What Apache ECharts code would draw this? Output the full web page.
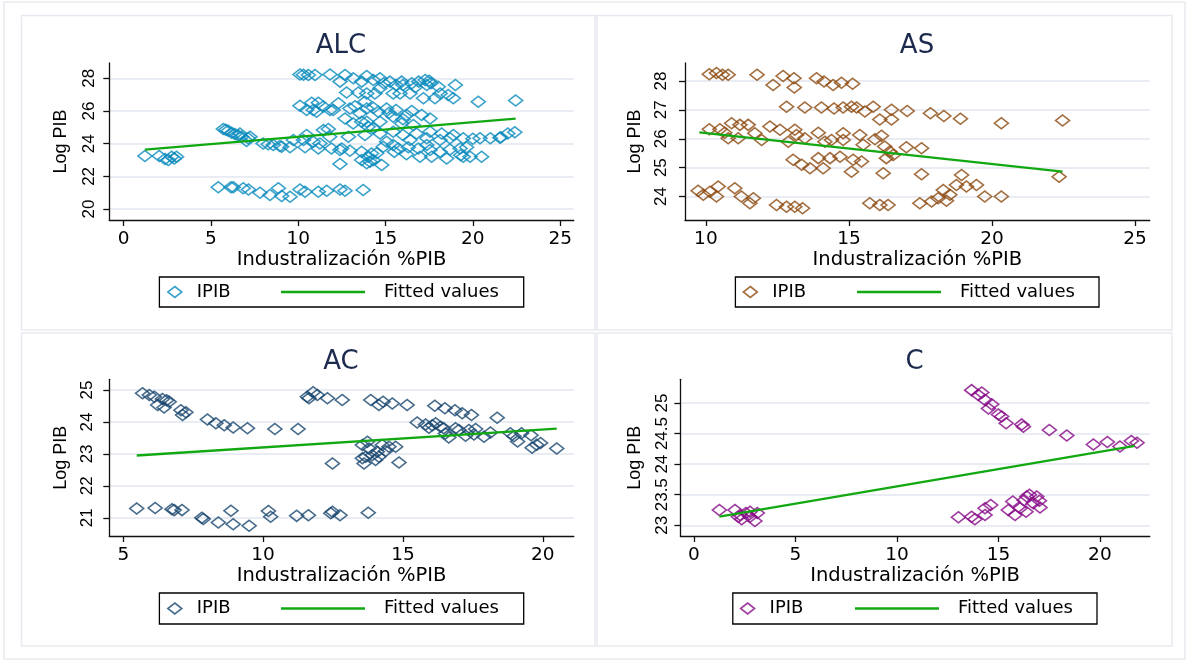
<!DOCTYPE html>
<html>
<head>
<meta charset="utf-8">
<title>Log PIB vs Industralización %PIB</title>
<script src="https://cdn.jsdelivr.net/npm/echarts@6/dist/echarts.min.js"></script>
<style>
  html, body { margin: 0; padding: 0; background: #fff; }
  #chart { width: 1189px; height: 661px; }
</style>
</head>
<body>
<div id="chart"></div>
<script>
const alcPoints = [
  [1.22, 23.24], [2.04, 23.24], [2.37, 23.06], [2.56, 23.0], [2.75, 23.2], [3.03, 23.2], [2.9, 23.1],
  [5.71, 24.9], [5.85, 24.85], [5.99, 24.8], [6.19, 24.67], [6.37, 24.6], [5.42, 21.33], [6.15, 21.33],
  [10.1, 28.24], [10.3, 28.22], [10.58, 28.2], [10.96, 28.2], [11.82, 28.24], [12.68, 28.2], [12.39, 27.8],
  [13.15, 28.0], [13.63, 27.8], [13.92, 28.14], [12.77, 27.14], [13.44, 27.14], [13.92, 27.08],
  [10.1, 26.33], [10.77, 26.5], [11.15, 26.5], [11.43, 26.27], [10.86, 26.06], [11.82, 26.06], [12.3, 26.47],
  [12.96, 26.16], [13.25, 26.3], [13.82, 26.57], [13.53, 25.86], [12.68, 25.55], [13.15, 25.24], [13.63, 25.35],
  [14.0, 25.04], [11.05, 25.96], [10.48, 26.06], [12.0, 26.06],
  [11.72, 24.9], [11.44, 24.84], [10.48, 24.53], [9.72, 24.22], [9.05, 23.82], [8.57, 23.92], [7.99, 24.02],
  [7.24, 24.43], [6.66, 24.63], [6.76, 24.43], [6.57, 24.5], [7.13, 24.33], [7.04, 24.16], [8.28, 23.96],
  [8.95, 23.86], [9.53, 23.78], [10.39, 23.78], [10.3, 24.22], [10.86, 24.12], [11.15, 23.71], [11.24, 24.02],
  [11.8, 24.43], [12.49, 23.71], [12.96, 23.57], [13.63, 23.51], [12.39, 22.76], [13.63, 23.0], [13.92, 22.8],
  [12.87, 24.43], [11.9, 23.71], [12.39, 23.61],
  [6.28, 21.33], [6.85, 21.27], [7.15, 21.2], [7.81, 21.0], [8.38, 20.86], [8.86, 21.27], [9.05, 20.8],
  [9.53, 20.76], [10.1, 21.2], [10.39, 21.06], [11.15, 21.06], [11.63, 21.12], [12.39, 21.2], [12.68, 21.12],
  [13.72, 21.16],
  [14.3, 27.9], [14.68, 28.0], [14.9, 27.7], [15.25, 27.8], [15.6, 27.6], [15.92, 27.8], [16.0, 27.6],
  [16.5, 27.7], [16.7, 27.45], [16.9, 27.8], [17.27, 27.9], [17.36, 27.6], [17.5, 27.85], [17.6, 27.7],
  [18.02, 27.49], [19.0, 27.6], [15.83, 27.08], [18.88, 26.78], [18.13, 27.08], [17.17, 26.78], [16.4, 27.08],
  [15.44, 27.08], [14.39, 27.08], [14.68, 27.39], [20.31, 26.57], [17.83, 26.78], [18.59, 26.98],
  [13.92, 26.16], [14.58, 25.96], [15.06, 26.16], [15.6, 26.06], [16.2, 25.76], [13.92, 25.35], [14.68, 25.35],
  [15.44, 25.65], [15.92, 25.24], [16.59, 25.14], [17.07, 25.76], [17.55, 25.55], [14.3, 24.94], [14.3, 26.2],
  [15.2, 25.9], [16.5, 26.0], [16.0, 25.5],
  [13.82, 24.53], [14.68, 24.63], [15.44, 24.73], [16.0, 24.53], [16.77, 24.63], [17.55, 24.73], [18.21, 24.63],
  [18.88, 24.53], [19.45, 24.33], [20.41, 24.33], [21.0, 24.33], [21.55, 24.37], [22.0, 24.63], [18.69, 24.33],
  [18.12, 24.22], [17.36, 24.33], [16.4, 24.22], [15.44, 23.92], [15.06, 24.12], [15.73, 23.71], [16.3, 23.78],
  [16.88, 23.71], [17.55, 23.61], [18.12, 23.51], [18.69, 23.65], [19.27, 23.71], [19.45, 23.2], [19.84, 23.2],
  [20.5, 23.2], [16.97, 23.2], [17.64, 23.2], [18.5, 23.1], [14.01, 23.2], [14.78, 22.69], [14.11, 22.9],
  [14.49, 23.41], [14.87, 23.82], [17.36, 23.92], [19.3, 23.3], [19.64, 23.78], [15.5, 23.5], [16.2, 23.35],
  [14.3, 23.0], [14.2, 23.4],
  [22.45, 26.65], [22.4, 24.7], [21.6, 24.4], [20.0, 24.3]
];
const asPoints = [
  [10.12, 28.23], [10.37, 28.27], [10.58, 28.21], [10.78, 28.21], [11.79, 28.21], [12.35, 27.86], [12.7, 28.17],
  [13.08, 28.09], [13.09, 27.77], [13.87, 28.09], [14.13, 27.98], [14.45, 27.86], [14.74, 27.94], [15.13, 27.9],
  [12.82, 27.11], [13.46, 27.08], [14.04, 27.08], [14.48, 27.05], [14.8, 27.08], [15.09, 27.11], [15.27, 27.08],
  [15.56, 26.94], [15.85, 27.11],
  [10.12, 26.33], [10.49, 26.33], [10.9, 26.54], [11.19, 26.48], [11.48, 26.48], [11.71, 26.19], [11.95, 25.96],
  [12.24, 26.42], [12.59, 26.31], [12.88, 25.9], [13.11, 26.31], [13.17, 26.13], [13.46, 26.02], [13.93, 26.21],
  [14.16, 25.9], [14.39, 25.96], [14.8, 25.96], [14.8, 26.19], [15.38, 26.13], [15.5, 25.79], [15.91, 25.98],
  [10.78, 26.02], [11.13, 26.02], [10.66, 26.21],
  [13.05, 25.27], [13.35, 25.1], [13.64, 24.98], [13.93, 25.33], [14.1, 24.98], [14.34, 25.33], [14.69, 25.38],
  [15.15, 25.27], [15.44, 25.21], [15.09, 24.86],
  [9.73, 24.2], [9.91, 24.06], [10.14, 24.17], [10.43, 24.35], [10.37, 24.0], [11.01, 24.29], [11.24, 24.0],
  [11.54, 23.77], [11.66, 23.94], [12.47, 23.71], [12.82, 23.65], [13.11, 23.65], [13.38, 23.6], [15.73, 23.77],
  [16.08, 26.67], [16.49, 27.0], [16.49, 26.67], [17.04, 26.96], [17.85, 26.88], [18.32, 26.79], [18.9, 26.69],
  [20.33, 26.54], [22.47, 26.63],
  [16.14, 26.1], [16.25, 25.73], [16.43, 25.56], [16.31, 25.33], [16.55, 25.44], [17.01, 25.71], [17.54, 25.67],
  [16.2, 24.81], [17.54, 24.77], [18.94, 24.75], [22.35, 24.69],
  [18.3, 24.23], [18.76, 24.4], [19.11, 24.35], [19.46, 24.4], [18.53, 24.06], [18.12, 23.94], [17.89, 23.83],
  [17.48, 23.77], [18.41, 23.86], [19.75, 24.0], [20.33, 24.0], [16.08, 23.71], [16.37, 23.71]
];
const acPoints = [
  [5.69, 24.9], [5.93, 24.84], [6.11, 24.79], [6.23, 24.53], [6.4, 24.72], [6.46, 24.45], [6.64, 24.63],
  [6.55, 24.68], [7.06, 24.37], [7.12, 24.22], [7.24, 24.3], [8.01, 24.08], [8.31, 23.96], [8.61, 23.9],
  [8.93, 23.83], [9.44, 23.8], [10.42, 23.78], [11.25, 23.78],
  [11.58, 24.79], [11.64, 24.74], [11.79, 24.93], [11.94, 24.84], [12.3, 24.74], [12.83, 24.69], [13.85, 24.69],
  [14.14, 24.53], [14.29, 24.63], [14.62, 24.58], [15.15, 24.53],
  [16.14, 24.51], [16.5, 24.43], [16.86, 24.37], [17.12, 24.27], [17.45, 24.22], [18.37, 24.13],
  [15.51, 23.98], [15.81, 23.92], [16.05, 23.9], [16.17, 23.96], [16.35, 23.85], [16.46, 23.8], [16.64, 23.51],
  [16.88, 23.8], [17.0, 23.75], [17.24, 23.57], [17.36, 23.75], [17.6, 23.78], [17.9, 23.54], [18.13, 23.67],
  [15.93, 23.82], [16.52, 23.64], [17.54, 23.61],
  [13.55, 23.28], [13.67, 22.91], [13.55, 22.86], [13.61, 22.7], [13.79, 23.17], [13.9, 22.96], [14.02, 22.81],
  [14.08, 23.07], [14.26, 23.28], [14.38, 23.09], [14.5, 23.22], [14.74, 23.22], [14.86, 22.73], [12.48, 22.7],
  [13.73, 23.38], [14.14, 22.91],
  [5.48, 21.29], [6.14, 21.31], [6.74, 21.27], [6.82, 21.24], [7.1, 21.24], [7.81, 21.0], [7.86, 20.96],
  [8.4, 20.85], [8.85, 21.22], [8.93, 20.8], [9.5, 20.75], [10.19, 21.21], [10.27, 21.03], [11.2, 21.06],
  [11.62, 21.08], [12.42, 21.14], [12.48, 21.19], [12.75, 21.08], [13.76, 21.16],
  [20.5, 23.17], [19.78, 23.29], [19.58, 23.58], [19.24, 23.65], [18.97, 23.55], [19.1, 23.39], [19.62, 23.19],
  [19.92, 23.34], [18.84, 23.65]
];
const cPoints = [
  [1.25, 23.25], [2.02, 23.25], [2.19, 23.14], [2.35, 23.1], [2.56, 23.2], [2.76, 23.22], [2.76, 23.14],
  [3.0, 23.07], [3.12, 23.2], [2.27, 23.17],
  [13.03, 23.13], [13.68, 23.14], [13.84, 23.1], [14.34, 23.17], [14.34, 23.28], [14.62, 23.33], [15.49, 23.25],
  [15.71, 23.39], [15.82, 23.17], [16.07, 23.28], [16.27, 23.41], [16.4, 23.47], [16.53, 23.5], [16.36, 23.22],
  [16.72, 23.36], [16.89, 23.47], [17.02, 23.4], [17.05, 23.29],
  [13.68, 25.21], [14.01, 25.13], [14.18, 25.17], [14.34, 25.05], [14.51, 24.91], [14.67, 24.98], [15.0, 24.81],
  [15.16, 24.78], [15.38, 24.67], [16.15, 24.65], [16.23, 24.61], [17.51, 24.56], [18.37, 24.47],
  [19.68, 24.32], [20.37, 24.36], [20.99, 24.29], [21.55, 24.38], [21.83, 24.35]
];

// rectas ajustadas (Fitted values)
const alcFit = [[1.22, 23.64], [22.45, 25.54]];
const asFit = [[9.77, 26.22], [22.47, 24.86]];
const acFit = [[5.48, 22.95], [20.5, 23.79]];
const cFit = [[1.25, 23.14], [21.72, 24.3]];

// marcas de los ejes
const alcXTicks = [0, 5, 10, 15, 20, 25];
const alcYTicks = [20, 22, 24, 26, 28];
const asXTicks = [10, 15, 20, 25];
const asYTicks = [24, 25, 26, 27, 28];
const acXTicks = [5, 10, 15, 20];
const acYTicks = [21, 22, 23, 24, 25];
const cXTicks = [0, 5, 10, 15, 20];
const cYTicks = [23, 23.5, 24, 24.5, 25];

const fitColor = '#12a812';
const hFont = 'DejaVu Sans';
const vFont = 'Liberation Sans';

// posicion de cada panel en la imagen
const panels = [
  {
    title: 'ALC', points: alcPoints, fit: alcFit, xTicks: alcXTicks, yTicks: alcYTicks, color: '#0a8bbd',
    grid: [109.3, 63, 464.5, 157], xRange: [-0.82, 25.78], yRange: [19.33, 28.94],
    titleX: 341, titleY: 33, yNameGap: 39, yLabelMargin: 11,
    box: [159.4, 277, 364.3, 30], diamondX: 174, lineX: 281
  },
  {
    title: 'AS', points: asPoints, fit: asFit, xTicks: asXTicks, yTicks: asYTicks, color: '#8c4a10',
    grid: [685, 63, 464.8, 157], xRange: [9.27, 25.52], yRange: [23.19, 28.62],
    titleX: 917, titleY: 33, yNameGap: 41, yLabelMargin: 15,
    box: [735.4, 277, 363.6, 30], diamondX: 749.5, lineX: 857
  },
  {
    title: 'AC', points: acPoints, fit: acFit, xTicks: acXTicks, yTicks: acYTicks, color: '#1a476f',
    grid: [109.3, 379.3, 464.5, 156.7], xRange: [4.5, 21.11], yRange: [20.43, 25.335],
    titleX: 341, titleY: 349, yNameGap: 39, yLabelMargin: 13,
    box: [159.4, 593, 364.3, 31], diamondX: 174, lineX: 281
  },
  {
    title: 'C', points: cPoints, fit: cFit, xTicks: cXTicks, yTicks: cYTicks, color: '#860a86',
    grid: [680.4, 379.3, 469.4, 156.7], xRange: [-0.67, 22.46], yRange: [22.825, 25.387],
    titleX: 914.5, titleY: 349, yNameGap: 36, yLabelMargin: 10,
    box: [732.8, 593, 364.2, 31], diamondX: 746.8, lineX: 855
  }
];

const grids = [], xAxes = [], yAxes = [], series = [], titles = [], legends = [];
const frameStyle = { fill: null, stroke: '#e7eaf0', lineWidth: 1.5 };
const graphics = [
  { type: 'rect', shape: { x: 4, y: 2, width: 1181, height: 657 }, style: frameStyle, silent: true },
  { type: 'rect', shape: { x: 21.5, y: 15.5, width: 573.5, height: 314.5 }, style: frameStyle, silent: true },
  { type: 'rect', shape: { x: 597, y: 15.5, width: 575, height: 314.5 }, style: frameStyle, silent: true },
  { type: 'rect', shape: { x: 21.5, y: 333, width: 573.5, height: 313 }, style: frameStyle, silent: true },
  { type: 'rect', shape: { x: 597, y: 333, width: 575, height: 313 }, style: frameStyle, silent: true }
];

panels.forEach((p, i) => {
  grids.push({ left: p.grid[0], top: p.grid[1], width: p.grid[2], height: p.grid[3], containLabel: false });

  xAxes.push({
    gridIndex: i, type: 'value', min: p.xRange[0], max: p.xRange[1],
    name: 'Industralización %PIB', nameLocation: 'middle', nameGap: 27,
    nameTextStyle: { fontFamily: hFont, fontSize: 19.5, color: '#000' },
    axisLine: { show: true, onZero: false, lineStyle: { color: '#111', width: 1.3 } },
    axisTick: { show: true, inside: false, length: 6, customValues: p.xTicks, lineStyle: { color: '#111', width: 1.3 } },
    axisLabel: { customValues: p.xTicks, margin: 10, fontFamily: hFont, fontSize: 18.5, color: '#000' },
    splitLine: { show: false }
  });

  yAxes.push({
    gridIndex: i, type: 'value', min: p.yRange[0], max: p.yRange[1],
    name: 'Log PIB', nameLocation: 'middle', nameGap: p.yNameGap, nameRotate: 90,
    nameTextStyle: { fontFamily: vFont, fontSize: 18, color: '#000' },
    axisLine: { show: true, onZero: false, lineStyle: { color: '#111', width: 1.3 } },
    axisTick: { show: true, inside: false, length: 6, customValues: p.yTicks, lineStyle: { color: '#111', width: 1.3 } },
    axisLabel: { customValues: p.yTicks, rotate: 90, margin: p.yLabelMargin, fontFamily: vFont, fontSize: 17, color: '#000' },
    splitLine: { show: true, lineStyle: { color: '#e2e7ef', width: 1.5 } }
  });

  series.push({
    name: 'IPIB#' + p.title, type: 'scatter', xAxisIndex: i, yAxisIndex: i,
    data: p.points, symbol: 'diamond', symbolSize: [14, 11],
    itemStyle: { color: 'rgba(0,0,0,0)', borderColor: p.color, borderWidth: 1.6 },
    silent: true, z: 2
  });
  series.push({
    name: 'Fitted values#' + p.title, type: 'line', xAxisIndex: i, yAxisIndex: i,
    data: p.fit, symbol: 'none', lineStyle: { color: fitColor, width: 2.3 }, itemStyle: { color: fitColor },
    silent: true, z: 3
  });

  titles.push({
    text: p.title, left: p.titleX, top: p.titleY, textAlign: 'center', padding: 0,
    textStyle: { fontFamily: hFont, fontSize: 26, fontWeight: 'normal', color: '#1c2a4e' }
  });

  // leyenda: rombo + IPIB, linea + Fitted values, dentro de un marco
  const cy = p.box[1] + p.box[3] / 2;
  legends.push({
    data: ['IPIB#' + p.title], left: p.diamondX - 7, top: cy - 9, padding: 0,
    itemWidth: 14, itemHeight: 11, symbolKeepAspect: false, selectedMode: false,
    itemStyle: { color: 'rgba(0,0,0,0)', borderColor: p.color, borderWidth: 1.6 },
    formatter: name => name.split('#')[0],
    textStyle: { fontFamily: hFont, fontSize: 18, color: '#000', padding: [0, 0, 0, 10] }
  });
  legends.push({
    data: [{ name: 'Fitted values#' + p.title, icon: 'rect' }], left: p.lineX, top: cy - 9, padding: 0,
    itemWidth: 84, itemHeight: 2.4, selectedMode: false,
    itemStyle: { color: fitColor, borderWidth: 0 },
    formatter: name => name.split('#')[0],
    textStyle: { fontFamily: hFont, fontSize: 18, color: '#000', padding: [0, 0, 0, 14] }
  });

  graphics.push({
    type: 'rect', shape: { x: p.box[0], y: p.box[1], width: p.box[2], height: p.box[3] },
    style: { fill: null, stroke: '#000', lineWidth: 1.3 }, silent: true
  });
});

const myChart = echarts.init(document.getElementById('chart'), null, { renderer: 'canvas' });
myChart.setOption({
  animation: false,
  backgroundColor: '#fff',
  title: titles,
  legend: legends,
  grid: grids,
  xAxis: xAxes,
  yAxis: yAxes,
  series: series,
  graphic: graphics
});
</script>
</body>
</html>
